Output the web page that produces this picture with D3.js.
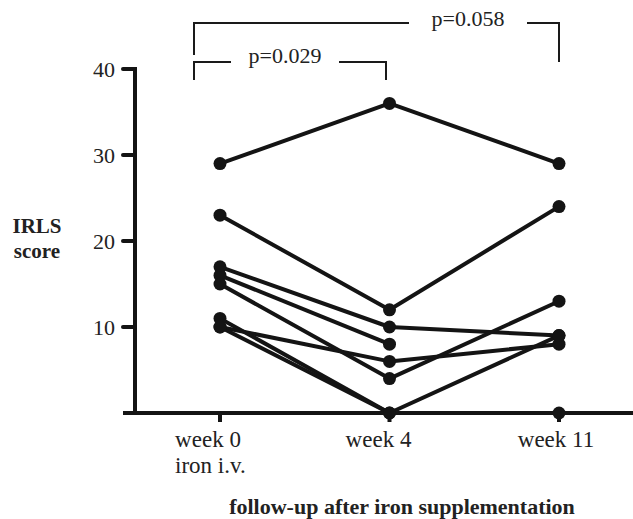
<!DOCTYPE html>
<html>
<head>
<meta charset="utf-8">
<script src="https://cdn.jsdelivr.net/npm/d3@7/dist/d3.min.js"></script>
<style>
  body { margin: 0; background: #fff; }
  svg { display: block; font-family: 'Liberation Serif', 'DejaVu Serif', serif; }
</style>
</head>
<body>
<div id="chart"></div>
<script>
const weeks = ['week 0', 'week 4', 'week 11'];
const weekSubLabels = ['iron i.v.', '', ''];
const yTicks = [10, 20, 30, 40];

// one row per patient: IRLS score at week 0, week 4, week 11 (null = missing)
const patients = [
  [29, 36, 29],
  [23, 12, 24],
  [17, 10, 9],
  [16, 8, null],
  [15, 4, 13],
  [10, 6, 8],
  [11, 0, 9],
  [10, 0, 0]
];

const comparisons = [
  { from: 'week 0', to: 'week 4', label: 'p=0.029' },
  { from: 'week 0', to: 'week 11', label: 'p=0.058' }
];

const width = 633;
const height = 519;
const ink = '#141414';

const svg = d3.select('#chart').append('svg')
  .attr('width', width)
  .attr('height', height);

const x = d3.scalePoint().domain(weeks).range([220, 559]);
const y = d3.scaleLinear().domain([0, 40]).range([413, 69]);

// y axis
const yAxis = svg.append('g').attr('transform', 'translate(135,0)');
yAxis.append('line')
  .attr('x1', 0).attr('x2', 0)
  .attr('y1', y(40) - 2).attr('y2', y(0))
  .attr('stroke', ink).attr('stroke-width', 4);
yAxis.selectAll('line.tick').data(yTicks).join('line')
  .attr('class', 'tick')
  .attr('x1', -12).attr('x2', 0)
  .attr('y1', d => y(d)).attr('y2', d => y(d))
  .attr('stroke', ink).attr('stroke-width', 4).attr('stroke-linecap', 'round');
yAxis.selectAll('text').data(yTicks).join('text')
  .attr('x', -20)
  .attr('y', d => y(d) + 7.5)
  .attr('text-anchor', 'end')
  .attr('font-size', 22)
  .attr('fill', '#222')
  .text(d => d);

// x axis
const xAxis = svg.append('g').attr('transform', 'translate(0,' + y(0) + ')');
xAxis.append('line')
  .attr('x1', 123).attr('x2', width)
  .attr('y1', 0).attr('y2', 0)
  .attr('stroke', ink).attr('stroke-width', 4);
xAxis.selectAll('line.tick').data(weeks).join('line')
  .attr('class', 'tick')
  .attr('x1', d => x(d)).attr('x2', d => x(d))
  .attr('y1', 0).attr('y2', 9)
  .attr('stroke', ink).attr('stroke-width', 4);

const labelShift = [-12, -11, -3];
xAxis.selectAll('text.week').data(weeks).join('text')
  .attr('class', 'week')
  .attr('x', (d, i) => x(d) + labelShift[i])
  .attr('y', 34)
  .attr('text-anchor', 'middle')
  .attr('font-size', 23)
  .attr('fill', '#222')
  .text(d => d);
xAxis.selectAll('text.sub').data(weeks).join('text')
  .attr('class', 'sub')
  .attr('x', (d, i) => x(d) + labelShift[i] - 33)
  .attr('y', 60)
  .attr('text-anchor', 'start')
  .attr('font-size', 23)
  .attr('fill', '#222')
  .text((d, i) => weekSubLabels[i]);

// axis titles
svg.append('text')
  .attr('x', 37).attr('y', 233)
  .attr('text-anchor', 'middle')
  .attr('font-size', 21).attr('font-weight', 'bold').attr('fill', '#222')
  .text('IRLS');
svg.append('text')
  .attr('x', 37).attr('y', 258)
  .attr('text-anchor', 'middle')
  .attr('font-size', 21).attr('font-weight', 'bold').attr('fill', '#222')
  .text('score');
svg.append('text')
  .attr('x', 402).attr('y', 514)
  .attr('text-anchor', 'middle')
  .attr('font-size', 22).attr('font-weight', 'bold').attr('fill', '#222')
  .text('follow-up after iron supplementation');

// patient lines
const line = d3.line()
  .defined(d => d.v != null)
  .x(d => x(d.w))
  .y(d => y(d.v));

const rows = patients.map(p => p.map((v, i) => ({ w: weeks[i], v: v })));

svg.append('g').selectAll('path').data(rows).join('path')
  .attr('d', line)
  .attr('fill', 'none')
  .attr('stroke', ink)
  .attr('stroke-width', 4)
  .attr('stroke-linejoin', 'round');

svg.append('g').selectAll('circle')
  .data(rows.flat().filter(d => d.v != null))
  .join('circle')
  .attr('cx', d => x(d.w))
  .attr('cy', d => y(d.v))
  .attr('r', 6.5)
  .attr('fill', ink);

// significance brackets
const bracketLayout = [
  { y: 62, left: 194, right: 386, dropL: 18, dropR: 18, gap: [231, 339], ty: 63 },
  { y: 23, left: 194, right: 559, dropL: 32, dropR: 39, gap: [409, 527], ty: 26 }
];

comparisons.forEach((c, i) => {
  const b = bracketLayout[i];
  const g = svg.append('g')
    .attr('fill', 'none')
    .attr('stroke', '#1a1a1a')
    .attr('stroke-width', 2);
  g.append('path')
    .attr('d', 'M' + b.left + ',' + (b.y + b.dropL) + 'V' + b.y + 'H' + b.gap[0]);
  g.append('path')
    .attr('d', 'M' + b.gap[1] + ',' + b.y + 'H' + b.right + 'V' + (b.y + b.dropR));
  svg.append('text')
    .attr('x', (b.gap[0] + b.gap[1]) / 2)
    .attr('y', b.ty)
    .attr('text-anchor', 'middle')
    .attr('font-size', 22)
    .attr('fill', '#222')
    .text(c.label);
});
</script>
</body>
</html>
